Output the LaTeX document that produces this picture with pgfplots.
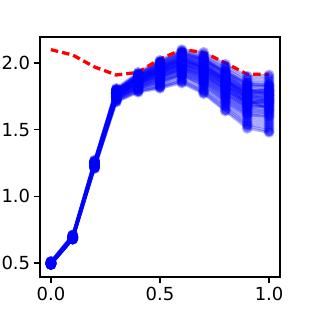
\documentclass[border=0pt]{standalone}
\usepackage{fontspec}
\setmainfont{DejaVu Sans}
\usepackage{pgfplots}
\pgfplotsset{compat=1.18}
\begin{document}
\begin{tikzpicture}[x=1pt,y=1pt]
\begin{axis}[
  at={(0,0)}, anchor=south west,
  scale only axis, width=240pt, height=240pt,
  xmin=-0.05, xmax=1.05, ymin=0.395, ymax=2.195,
  xtick={0,0.5,1}, ytick={0.5,1,1.5,2},
  xticklabel style={/pgf/number format/fixed,/pgf/number format/fixed zerofill,/pgf/number format/precision=1},
  yticklabel style={/pgf/number format/fixed,/pgf/number format/fixed zerofill,/pgf/number format/precision=1},
  /pgf/number format/assume math mode=true,
  tick label style={font=\fontsize{18}{20}\selectfont},
  tick align=outside, major tick length=6.3pt,
  every tick/.style={black, line width=1.4pt},
  axis line style={line width=1.4pt, black},
  xtick pos=bottom, ytick pos=left,
  clip=true,
  bl/.style={draw=blue, line width=2.6pt, opacity=0.33, mark=*, mark size=4pt, mark options={solid, draw=blue, fill=blue}},
]
\addplot[bl] coordinates {(0,0.51)(0.1,0.71)(0.2,1.27)(0.3,1.81)(0.4,1.93)(0.5,2.02)(0.6,2.10)(0.7,2.08)(0.8,1.99)(0.9,1.90)(1.0,1.91)};
\addplot[bl] coordinates {(0,0.51)(0.1,0.71)(0.2,1.27)(0.3,1.80)(0.4,1.92)(0.5,2.01)(0.6,2.09)(0.7,2.06)(0.8,1.97)(0.9,1.88)(1.0,1.89)};
\addplot[bl] coordinates {(0,0.51)(0.1,0.70)(0.2,1.26)(0.3,1.80)(0.4,1.91)(0.5,2.00)(0.6,2.08)(0.7,2.05)(0.8,1.96)(0.9,1.86)(1.0,1.87)};
\addplot[bl] coordinates {(0,0.50)(0.1,0.71)(0.2,1.26)(0.3,1.79)(0.4,1.91)(0.5,1.99)(0.6,2.07)(0.7,2.04)(0.8,1.94)(0.9,1.85)(1.0,1.85)};
\addplot[bl] coordinates {(0,0.50)(0.1,0.70)(0.2,1.26)(0.3,1.79)(0.4,1.90)(0.5,1.98)(0.6,2.06)(0.7,2.03)(0.8,1.93)(0.9,1.84)(1.0,1.83)};
\addplot[bl] coordinates {(0,0.50)(0.1,0.70)(0.2,1.25)(0.3,1.79)(0.4,1.90)(0.5,1.98)(0.6,2.05)(0.7,2.02)(0.8,1.92)(0.9,1.82)(1.0,1.83)};
\addplot[bl] coordinates {(0,0.51)(0.1,0.70)(0.2,1.26)(0.3,1.78)(0.4,1.89)(0.5,1.97)(0.6,2.04)(0.7,2.01)(0.8,1.91)(0.9,1.81)(1.0,1.80)};
\addplot[bl] coordinates {(0,0.50)(0.1,0.70)(0.2,1.25)(0.3,1.78)(0.4,1.89)(0.5,1.96)(0.6,2.04)(0.7,2.00)(0.8,1.90)(0.9,1.80)(1.0,1.79)};
\addplot[bl] coordinates {(0,0.50)(0.1,0.70)(0.2,1.25)(0.3,1.78)(0.4,1.88)(0.5,1.96)(0.6,2.03)(0.7,1.99)(0.8,1.89)(0.9,1.79)(1.0,1.78)};
\addplot[bl] coordinates {(0,0.50)(0.1,0.69)(0.2,1.25)(0.3,1.78)(0.4,1.88)(0.5,1.95)(0.6,2.02)(0.7,1.98)(0.8,1.88)(0.9,1.78)(1.0,1.77)};
\addplot[bl] coordinates {(0,0.50)(0.1,0.70)(0.2,1.25)(0.3,1.77)(0.4,1.88)(0.5,1.95)(0.6,2.01)(0.7,1.97)(0.8,1.87)(0.9,1.77)(1.0,1.76)};
\addplot[bl] coordinates {(0,0.50)(0.1,0.69)(0.2,1.24)(0.3,1.77)(0.4,1.87)(0.5,1.94)(0.6,2.00)(0.7,1.96)(0.8,1.86)(0.9,1.75)(1.0,1.74)};
\addplot[bl] coordinates {(0,0.50)(0.1,0.69)(0.2,1.24)(0.3,1.77)(0.4,1.87)(0.5,1.93)(0.6,2.00)(0.7,1.95)(0.8,1.85)(0.9,1.74)(1.0,1.73)};
\addplot[bl] coordinates {(0,0.50)(0.1,0.69)(0.2,1.24)(0.3,1.76)(0.4,1.86)(0.5,1.93)(0.6,1.99)(0.7,1.94)(0.8,1.84)(0.9,1.73)(1.0,1.72)};
\addplot[bl] coordinates {(0,0.50)(0.1,0.69)(0.2,1.24)(0.3,1.76)(0.4,1.86)(0.5,1.92)(0.6,1.98)(0.7,1.93)(0.8,1.83)(0.9,1.72)(1.0,1.71)};
\addplot[bl] coordinates {(0,0.50)(0.1,0.69)(0.2,1.24)(0.3,1.76)(0.4,1.85)(0.5,1.91)(0.6,1.97)(0.7,1.92)(0.8,1.82)(0.9,1.71)(1.0,1.70)};
\addplot[bl] coordinates {(0,0.50)(0.1,0.69)(0.2,1.24)(0.3,1.76)(0.4,1.85)(0.5,1.91)(0.6,1.97)(0.7,1.91)(0.8,1.80)(0.9,1.69)(1.0,1.68)};
\addplot[bl] coordinates {(0,0.49)(0.1,0.69)(0.2,1.23)(0.3,1.75)(0.4,1.85)(0.5,1.90)(0.6,1.96)(0.7,1.90)(0.8,1.79)(0.9,1.68)(1.0,1.67)};
\addplot[bl] coordinates {(0,0.50)(0.1,0.69)(0.2,1.23)(0.3,1.75)(0.4,1.84)(0.5,1.90)(0.6,1.95)(0.7,1.89)(0.8,1.78)(0.9,1.67)(1.0,1.65)};
\addplot[bl] coordinates {(0,0.49)(0.1,0.68)(0.2,1.23)(0.3,1.75)(0.4,1.84)(0.5,1.89)(0.6,1.95)(0.7,1.88)(0.8,1.77)(0.9,1.66)(1.0,1.64)};
\addplot[bl] coordinates {(0,0.49)(0.1,0.69)(0.2,1.23)(0.3,1.74)(0.4,1.83)(0.5,1.88)(0.6,1.94)(0.7,1.87)(0.8,1.76)(0.9,1.65)(1.0,1.63)};
\addplot[bl] coordinates {(0,0.49)(0.1,0.68)(0.2,1.23)(0.3,1.74)(0.4,1.83)(0.5,1.87)(0.6,1.93)(0.7,1.86)(0.8,1.74)(0.9,1.63)(1.0,1.61)};
\addplot[bl] coordinates {(0,0.49)(0.1,0.68)(0.2,1.22)(0.3,1.74)(0.4,1.82)(0.5,1.86)(0.6,1.92)(0.7,1.85)(0.8,1.73)(0.9,1.62)(1.0,1.59)};
\addplot[bl] coordinates {(0,0.49)(0.1,0.68)(0.2,1.22)(0.3,1.73)(0.4,1.81)(0.5,1.85)(0.6,1.91)(0.7,1.83)(0.8,1.71)(0.9,1.60)(1.0,1.57)};
\addplot[bl] coordinates {(0,0.49)(0.1,0.68)(0.2,1.22)(0.3,1.73)(0.4,1.81)(0.5,1.84)(0.6,1.90)(0.7,1.82)(0.8,1.70)(0.9,1.58)(1.0,1.55)};
\addplot[bl] coordinates {(0,0.49)(0.1,0.68)(0.2,1.22)(0.3,1.72)(0.4,1.80)(0.5,1.83)(0.6,1.88)(0.7,1.80)(0.8,1.68)(0.9,1.56)(1.0,1.53)};
\addplot[bl] coordinates {(0,0.49)(0.1,0.68)(0.2,1.21)(0.3,1.72)(0.4,1.79)(0.5,1.82)(0.6,1.87)(0.7,1.79)(0.8,1.67)(0.9,1.54)(1.0,1.51)};
\addplot[bl] coordinates {(0,0.49)(0.1,0.68)(0.2,1.21)(0.3,1.71)(0.4,1.79)(0.5,1.82)(0.6,1.86)(0.7,1.78)(0.8,1.65)(0.9,1.53)(1.0,1.49)};
\addplot[bl] coordinates {(0,0.49)(0.1,0.68)(0.2,1.21)(0.3,1.71)(0.4,1.78)(0.5,1.81)(0.6,1.85)(0.7,1.77)(0.8,1.64)(0.9,1.51)(1.0,1.48)};
\addplot[bl] coordinates {(0,0.50)(0.1,0.70)(0.2,1.25)(0.3,1.80)(0.4,1.90)(0.5,1.97)(0.6,2.03)(0.7,1.96)(0.8,1.84)(0.9,1.70)(1.0,1.74)};
\addplot[bl] coordinates {(0,0.50)(0.1,0.69)(0.2,1.24)(0.3,1.75)(0.4,1.86)(0.5,1.95)(0.6,2.03)(0.7,1.99)(0.8,1.87)(0.9,1.73)(1.0,1.65)};
\addplot[bl] coordinates {(0,0.51)(0.1,0.71)(0.2,1.26)(0.3,1.78)(0.4,1.91)(0.5,2.01)(0.6,2.08)(0.7,2.03)(0.8,1.92)(0.9,1.80)(1.0,1.76)};
\addplot[bl] coordinates {(0,0.49)(0.1,0.69)(0.2,1.23)(0.3,1.73)(0.4,1.82)(0.5,1.89)(0.6,1.96)(0.7,1.91)(0.8,1.80)(0.9,1.69)(1.0,1.72)};
\addplot[bl] coordinates {(0,0.50)(0.1,0.70)(0.2,1.25)(0.3,1.79)(0.4,1.90)(0.5,1.99)(0.6,2.06)(0.7,2.02)(0.8,1.93)(0.9,1.83)(1.0,1.82)};
\addplot[bl] coordinates {(0,0.50)(0.1,0.70)(0.2,1.25)(0.3,1.78)(0.4,1.89)(0.5,1.97)(0.6,2.05)(0.7,2.01)(0.8,1.90)(0.9,1.79)(1.0,1.81)};
\addplot[bl] coordinates {(0,0.50)(0.1,0.69)(0.2,1.24)(0.3,1.77)(0.4,1.88)(0.5,1.96)(0.6,2.02)(0.7,1.97)(0.8,1.86)(0.9,1.76)(1.0,1.78)};
\addplot[bl] coordinates {(0,0.50)(0.1,0.70)(0.2,1.25)(0.3,1.78)(0.4,1.88)(0.5,1.94)(0.6,2.01)(0.7,1.96)(0.8,1.86)(0.9,1.76)(1.0,1.75)};
\addplot[bl] coordinates {(0,0.50)(0.1,0.69)(0.2,1.24)(0.3,1.77)(0.4,1.87)(0.5,1.94)(0.6,1.99)(0.7,1.94)(0.8,1.83)(0.9,1.74)(1.0,1.76)};
\addplot[bl] coordinates {(0,0.50)(0.1,0.69)(0.2,1.24)(0.3,1.76)(0.4,1.86)(0.5,1.92)(0.6,1.99)(0.7,1.93)(0.8,1.82)(0.9,1.71)(1.0,1.69)};
\addplot[bl] coordinates {(0,0.49)(0.1,0.69)(0.2,1.23)(0.3,1.75)(0.4,1.85)(0.5,1.91)(0.6,1.96)(0.7,1.90)(0.8,1.80)(0.9,1.70)(1.0,1.70)};
\addplot[bl] coordinates {(0,0.50)(0.1,0.69)(0.2,1.24)(0.3,1.76)(0.4,1.85)(0.5,1.92)(0.6,1.98)(0.7,1.92)(0.8,1.81)(0.9,1.70)(1.0,1.66)};
\addplot[bl] coordinates {(0,0.49)(0.1,0.68)(0.2,1.23)(0.3,1.75)(0.4,1.84)(0.5,1.89)(0.6,1.94)(0.7,1.88)(0.8,1.77)(0.9,1.67)(1.0,1.68)};
\addplot[bl] coordinates {(0,0.50)(0.1,0.70)(0.2,1.25)(0.3,1.79)(0.4,1.89)(0.5,1.98)(0.6,2.04)(0.7,1.99)(0.8,1.88)(0.9,1.78)(1.0,1.80)};
\addplot[bl] coordinates {(0,0.51)(0.1,0.70)(0.2,1.26)(0.3,1.80)(0.4,1.92)(0.5,2.00)(0.6,2.07)(0.7,2.03)(0.8,1.94)(0.9,1.84)(1.0,1.84)};
\addplot[bl] coordinates {(0,0.49)(0.1,0.68)(0.2,1.22)(0.3,1.74)(0.4,1.82)(0.5,1.87)(0.6,1.92)(0.7,1.86)(0.8,1.75)(0.9,1.64)(1.0,1.62)};
\addplot[bl] coordinates {(0,0.50)(0.1,0.69)(0.2,1.24)(0.3,1.77)(0.4,1.87)(0.5,1.93)(0.6,1.99)(0.7,1.95)(0.8,1.84)(0.9,1.74)(1.0,1.71)};
\addplot[bl] coordinates {(0,0.50)(0.1,0.70)(0.2,1.25)(0.3,1.78)(0.4,1.89)(0.5,1.96)(0.6,2.02)(0.7,1.98)(0.8,1.88)(0.9,1.76)(1.0,1.73)};
\addplot[bl] coordinates {(0,0.49)(0.1,0.68)(0.2,1.22)(0.3,1.73)(0.4,1.81)(0.5,1.86)(0.6,1.91)(0.7,1.84)(0.8,1.72)(0.9,1.61)(1.0,1.60)};
\addplot[bl] coordinates {(0,0.50)(0.1,0.69)(0.2,1.24)(0.3,1.77)(0.4,1.87)(0.5,1.94)(0.6,2.01)(0.7,1.97)(0.8,1.87)(0.9,1.77)(1.0,1.79)};
\addplot[red, line width=3.3pt, mark=none, dash pattern=on 7.5pt off 4pt] coordinates {(0,2.10)(0.1,2.06)(0.2,1.97)(0.3,1.91)(0.4,1.93)(0.5,2.03)(0.6,2.10)(0.7,2.08)(0.8,2.00)(0.9,1.915)(1.0,1.915)};
\end{axis}
\pgfresetboundingbox
\path[use as bounding box] (-40pt,-35pt) rectangle (272pt,277pt);
\end{tikzpicture}
\end{document}
